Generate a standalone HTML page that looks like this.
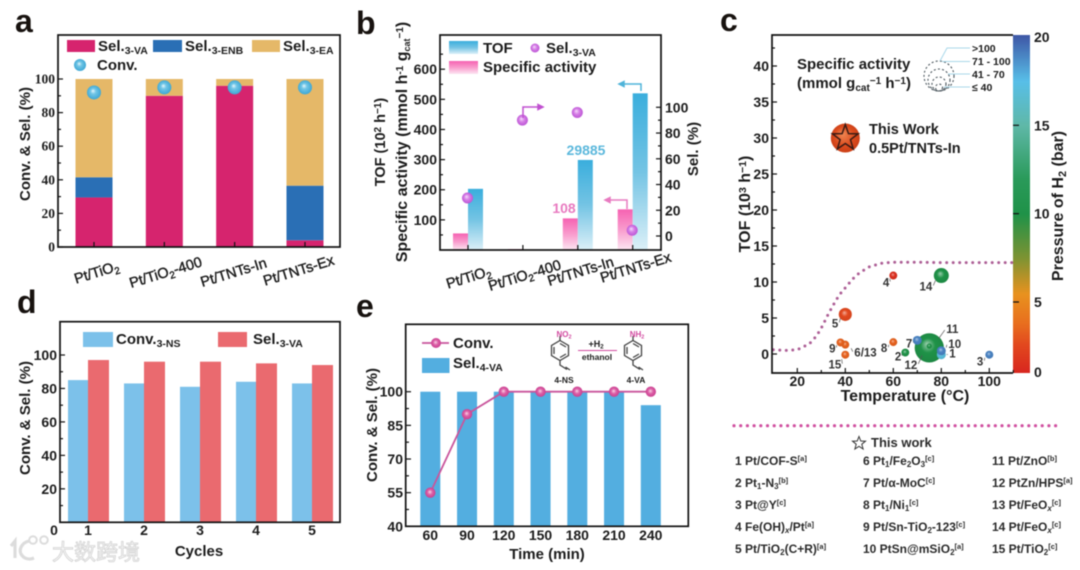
<!DOCTYPE html>
<html lang="en">
<head>
<meta charset="utf-8">
<title>Catalyst performance figure</title>
<style>
html,body{margin:0;padding:0;background:#fff;width:1080px;height:570px;overflow:hidden}
svg{display:block;filter:blur(0.45px)}
text{font-family:"Liberation Sans","Noto Sans CJK SC",sans-serif;fill:#1c1c1c}
.b{font-weight:bold}
.t15{font-size:15px;font-weight:bold}
.letter{font-size:32px;font-weight:bold;fill:#17120f}
.rot{font-size:14.5px;stroke:#1c1c1c;stroke-width:.4px}
.ref{font-size:12px;font-weight:bold;fill:#2b2b2b}
</style>
</head>
<body>
<svg id="fig" xmlns="http://www.w3.org/2000/svg" width="1080" height="570" viewBox="0 0 1080 570">
<defs>
  <radialGradient id="ballBlue" cx=".5" cy=".5" r=".55" fx=".42" fy=".38"><stop offset="0" stop-color="#e8f8fd"/><stop offset=".35" stop-color="#72c6e6"/><stop offset="1" stop-color="#37a3d2"/></radialGradient>
  <radialGradient id="ballPurple" cx=".5" cy=".5" r=".55" fx=".4" fy=".36"><stop offset="0" stop-color="#f6dcfb"/><stop offset=".45" stop-color="#d67fe6"/><stop offset="1" stop-color="#b84fd2"/></radialGradient>
  <radialGradient id="ballPink" cx=".5" cy=".5" r=".55" fx=".45" fy=".42"><stop offset="0" stop-color="#f9d3e6"/><stop offset=".45" stop-color="#dc5fa6"/><stop offset="1" stop-color="#c63a8c"/></radialGradient>
  <radialGradient id="ballStar" cx=".5" cy=".5" r=".55" fx=".4" fy=".35"><stop offset="0" stop-color="#f08a55"/><stop offset=".6" stop-color="#dc4c1e"/><stop offset="1" stop-color="#c83d15"/></radialGradient>
  <linearGradient id="gradTof" x1="0" y1="0" x2="0" y2="1"><stop offset="0" stop-color="#3aaedd"/><stop offset=".5" stop-color="#74c4e4"/><stop offset="1" stop-color="#dcf0f8"/></linearGradient>
  <linearGradient id="gradSpec" x1="0" y1="0" x2="0" y2="1"><stop offset="0" stop-color="#f662b2"/><stop offset=".5" stop-color="#f99ccd"/><stop offset="1" stop-color="#fde6f2"/></linearGradient>
</defs>

<!-- Panel letters -->
<text class="letter" x="15" y="32">a</text>
<text class="letter" x="356" y="34">b</text>
<text class="letter" x="720" y="31">c</text>
<text class="letter" x="17" y="313">d</text>
<text class="letter" x="356" y="317">e</text>

<g id="panelA"></g>
<g id="panelB"></g>
<g id="panelC"></g>
<g id="panelD"></g>
<g id="panelE"></g>

<!-- Panel a static -->
<g>
  <rect x="67" y="40" width="28" height="12" fill="#d6246e"/>
  <text x="98" y="51" class="t15">Sel.<tspan font-size="10.5" dy="3">3-VA</tspan></text>
  <rect x="153" y="40" width="29" height="12" fill="#2a6fb5"/>
  <text x="185" y="51" class="t15">Sel.<tspan font-size="10.5" dy="3">3-ENB</tspan></text>
  <rect x="252" y="40" width="28" height="12" fill="#e5b868"/>
  <text x="283" y="51" class="t15">Sel.<tspan font-size="10.5" dy="3">3-EA</tspan></text>
  <circle cx="80" cy="65" r="6" fill="url(#ballBlue)"/>
  <text x="97" y="70" class="t15">Conv.</text>
</g>
<text class="t15" transform="translate(30 144) rotate(-90)" text-anchor="middle">Conv. &amp; Sel. (%)</text>

<!-- Panel b static -->
<g>
  <rect x="449" y="41" width="29" height="13" fill="url(#gradTof)"/>
  <text x="483" y="53" class="t15">TOF</text>
  <circle cx="535" cy="48" r="4.5" fill="url(#ballPurple)"/>
  <text x="546" y="53" class="t15">Sel.<tspan font-size="10.5" dy="3">3-VA</tspan></text>
  <rect x="449" y="61" width="29" height="13" fill="url(#gradSpec)"/>
  <text x="483" y="72" class="t15">Specific activity</text>
</g>
<text class="t15" style="font-size:14.5px" transform="translate(385 142) rotate(-90)" text-anchor="middle">TOF (10<tspan font-size="10" dy="-4">2</tspan><tspan dy="4"> h</tspan><tspan font-size="10" dy="-4">−1</tspan><tspan dy="4">)</tspan></text>
<text class="t15" style="font-size:16px" transform="translate(407 142) rotate(-90)" text-anchor="middle">Specific activity (mmol h<tspan font-size="10" dy="-4">-1</tspan><tspan dy="4"> g</tspan><tspan font-size="9" dy="3">cat</tspan><tspan font-size="10" dy="-7">−1</tspan><tspan dy="4">)</tspan></text>
<text class="t15" transform="translate(698 149) rotate(-90)" text-anchor="middle">Sel. (%)</text>
<text x="586" y="155" text-anchor="middle" class="b" font-size="14" style="fill:#5cb8dc">29885</text>
<text x="564" y="213" text-anchor="middle" class="b" font-size="14" style="fill:#e87ac0">108</text>
<g fill="none" stroke-width="1.5">
  <path d="M523 118V107H540" stroke="#c050d0"/>
  <path d="M538 104.5L543 107L538 109.5Z" fill="#c050d0" stroke="#c050d0"/>
  <path d="M641 91V84H621" stroke="#4fb3d9"/>
  <path d="M624 81.5L619 84L624 86.5Z" fill="#4fb3d9" stroke="#4fb3d9"/>
  <path d="M627 209V200H607" stroke="#e87ac0"/>
  <path d="M610 197.5L605 200L610 202.5Z" fill="#e87ac0" stroke="#e87ac0"/>
</g>

<!-- Panel c static -->
<text class="t15" style="font-size:16px" transform="translate(750 204) rotate(-90)" text-anchor="middle">TOF (10<tspan font-size="10.5" dy="-4">3</tspan><tspan dy="4"> h</tspan><tspan font-size="10.5" dy="-4">−1</tspan><tspan dy="4">)</tspan></text>
<text class="t15" style="font-size:16px" x="905" y="401" text-anchor="middle">Temperature (°C)</text>
<text class="t15" style="font-size:16px" transform="translate(1063 206) rotate(-90)" text-anchor="middle">Pressure of H<tspan font-size="11" dy="3">2</tspan><tspan dy="-3"> (bar)</tspan></text>
<text x="797" y="69" class="t15">Specific activity</text>
<text x="797" y="88" class="t15">(mmol g<tspan font-size="10" dy="3">cat</tspan><tspan font-size="10" dy="-7">−1</tspan><tspan dy="4"> h</tspan><tspan font-size="10" dy="-4">−1</tspan><tspan dy="4">)</tspan></text>
<g fill="none" stroke="#4a555c" stroke-width="1.1" stroke-dasharray="2 2.2">
  <circle cx="939" cy="76" r="15"/>
  <circle cx="939" cy="80" r="11"/>
  <circle cx="939" cy="84" r="7"/>
  <circle cx="939" cy="87.5" r="3.5"/>
</g>
<g fill="none" stroke="#a9d8ea" stroke-width="1">
  <path d="M940 61L947 48H970"/>
  <path d="M942 61.5H970"/>
  <path d="M948 74H970"/>
  <path d="M944 87H970"/>
</g>
<text x="972" y="52" class="b" font-size="10.5">&gt;100</text>
<text x="972" y="65" class="b" font-size="10.5">71 - 100</text>
<text x="972" y="78" class="b" font-size="10.5">41 - 70</text>
<text x="972" y="91" class="b" font-size="10.5">≤ 40</text>
<text x="869" y="134" class="b" font-size="14.5">This Work</text>
<text x="869" y="153" class="b" font-size="14.5">0.5Pt/TNTs-In</text>

<!-- Reference list -->
<line x1="734" y1="425.7" x2="1062" y2="425.7" stroke="#d050a0" stroke-width="3.2" stroke-linecap="round" stroke-dasharray="0 6.7"/>
<polygon points="859,436.5 860.8,441 865.5,441.2 861.8,444.2 863.1,449 859,446.3 854.9,449 856.2,444.2 852.5,441.2 857.2,441" fill="#fff" stroke="#333" stroke-width="1"/>
<text x="871" y="447" class="b" font-size="13" style="fill:#2b2b2b">This work</text>
<g>
  <text class="ref" x="735" y="465">1 Pt/COF-S<tspan font-size="7.5" dy="-4">[a]</tspan></text>
  <text class="ref" x="735" y="487">2 Pt<tspan font-size="8" dy="2">1</tspan><tspan dy="-2">-N</tspan><tspan font-size="8" dy="2">3</tspan><tspan font-size="7.5" dy="-6">[b]</tspan></text>
  <text class="ref" x="735" y="509">3 Pt@Y<tspan font-size="7.5" dy="-4">[c]</tspan></text>
  <text class="ref" x="735" y="531">4 Fe(OH)<tspan font-size="8" dy="2" font-style="italic">x</tspan><tspan dy="-2">/Pt</tspan><tspan font-size="7.5" dy="-4">[a]</tspan></text>
  <text class="ref" x="735" y="553">5 Pt/TiO<tspan font-size="8" dy="2">2</tspan><tspan dy="-2">(C+R)</tspan><tspan font-size="7.5" dy="-4">[a]</tspan></text>
  <text class="ref" x="863" y="465">6 Pt<tspan font-size="8" dy="2">1</tspan><tspan dy="-2">/Fe</tspan><tspan font-size="8" dy="2">2</tspan><tspan dy="-2">O</tspan><tspan font-size="8" dy="2">3</tspan><tspan font-size="7.5" dy="-6">[c]</tspan></text>
  <text class="ref" x="863" y="487">7 Pt/α-MoC<tspan font-size="7.5" dy="-4">[c]</tspan></text>
  <text class="ref" x="863" y="509">8 Pt<tspan font-size="8" dy="2">1</tspan><tspan dy="-2">/Ni</tspan><tspan font-size="8" dy="2">1</tspan><tspan font-size="7.5" dy="-6">[c]</tspan></text>
  <text class="ref" x="863" y="531">9 Pt/Sn-TiO<tspan font-size="8" dy="2">2</tspan><tspan dy="-2">-123</tspan><tspan font-size="7.5" dy="-4">[c]</tspan></text>
  <text class="ref" x="863" y="553">10 PtSn@mSiO<tspan font-size="8" dy="2">2</tspan><tspan font-size="7.5" dy="-6">[a]</tspan></text>
  <text class="ref" x="992" y="465">11 Pt/ZnO<tspan font-size="7.5" dy="-4">[b]</tspan></text>
  <text class="ref" x="992" y="487">12 PtZn/HPS<tspan font-size="7.5" dy="-4">[a]</tspan></text>
  <text class="ref" x="992" y="509">13 Pt/FeO<tspan font-size="8" dy="2" font-style="italic">x</tspan><tspan font-size="7.5" dy="-6">[c]</tspan></text>
  <text class="ref" x="992" y="531">14 Pt/FeO<tspan font-size="8" dy="2" font-style="italic">x</tspan><tspan font-size="7.5" dy="-6">[c]</tspan></text>
  <text class="ref" x="992" y="553">15 Pt/TiO<tspan font-size="8" dy="2">2</tspan><tspan font-size="7.5" dy="-6">[c]</tspan></text>
</g>

<!-- Panel d static -->
<text class="t15" transform="translate(30 418) rotate(-90)" text-anchor="middle">Conv. &amp; Sel. (%)</text>
<text class="t15" x="199" y="556" text-anchor="middle">Cycles</text>
<rect x="83" y="332" width="30" height="15" fill="#7cc1ea"/>
<text x="116" y="344" class="t15">Conv.<tspan font-size="10.5" dy="3">3-NS</tspan></text>
<rect x="218" y="332" width="29" height="15" fill="#ea6a6f"/>
<text x="253" y="344" class="t15">Sel.<tspan font-size="10.5" dy="3">3-VA</tspan></text>

<!-- Panel e static -->
<text class="t15" transform="translate(377 425) rotate(-90)" text-anchor="middle">Conv. &amp; Sel. (%)</text>
<text class="t15" x="547" y="559" text-anchor="middle">Time (min)</text>
<line x1="422" y1="343" x2="449" y2="343" stroke="#c9559c" stroke-width="1.8"/>
<circle cx="436" cy="343" r="5" fill="url(#ballPink)"/>
<text x="453" y="348" class="t15">Conv.</text>
<rect x="422" y="358" width="27.5" height="15" fill="#53aee0"/>
<text x="453" y="368" class="t15">Sel.<tspan font-size="10.5" dy="3">4-VA</tspan></text>
<g>
  <g fill="none" stroke="#444" stroke-width="1.3">
    <polygon points="560,340.5 568.5,345.5 568.5,355.5 560,360.5 551.5,355.5 551.5,345.5"/>
    <path d="M554 347V354M560 343.5L566 347M566 354L560 357.5M560 340.5V336M560 360.5V365L567 369.5M565.5 367L570 370"/>
  </g>
  <g fill="none" stroke="#444" stroke-width="1.3">
    <polygon points="633,340.5 641.5,345.5 641.5,355.5 633,360.5 624.5,355.5 624.5,345.5"/>
    <path d="M627 347V354M633 343.5L639 347M639 354L633 357.5M633 340.5V336M633 360.5V365L640 369.5M638.5 367L643 370"/>
  </g>
  <text x="564" y="337" text-anchor="middle" class="b" font-size="8" style="fill:#d24aa0">NO<tspan font-size="5.5" dy="1.5">2</tspan></text>
  <text x="637" y="337" text-anchor="middle" class="b" font-size="8" style="fill:#d24aa0">NH<tspan font-size="5.5" dy="1.5">2</tspan></text>
  <text x="596" y="347" text-anchor="middle" class="b" font-size="9">+H<tspan font-size="6" dy="1.5">2</tspan></text>
  <line x1="578" y1="350.5" x2="617" y2="350.5" stroke="#d24aa0" stroke-width="1"/>
  <text x="597" y="360" text-anchor="middle" class="b" font-size="8.5">ethanol</text>
  <text x="564" y="383" text-anchor="middle" class="b" font-size="8.5">4-NS</text>
  <text x="636" y="383" text-anchor="middle" class="b" font-size="8.5">4-VA</text>
</g>

<!-- Watermark -->
<g>
  <g fill="none" stroke="#dcdcdc" stroke-width="3.2">
    <path d="M11 546L15 541V558"/>
    <path d="M29 541C21 543 19 550 21 554C24 559 29 560 34 558"/>
    <circle cx="33" cy="540" r="3.8" stroke-width="2"/>
    <circle cx="44" cy="540" r="3.8" stroke-width="2"/>
  </g>
  <text x="52" y="560" font-size="22" style="fill:#f7f7f7;stroke:#d4d4d4;stroke-width:.8px;font-family:'Noto Sans CJK SC',sans-serif">大数跨境</text>
</g>

<script>
// ---------- Panel a data ----------
const aCategories = ["Pt/TiO2", "Pt/TiO2-400", "Pt/TNTs-In", "Pt/TNTs-Ex"];
const aVa = [29.5, 90, 96, 4];
const aEnb = [12, 0, 0, 32.5];
const aEa = [58.5, 10, 4, 63.5];
const aConv = [92, 95, 95, 95];
const aTicks = [0, 20, 40, 60, 80, 100];

// ---------- Panel b data ----------
const bCategories = ["Pt/TiO2", "Pt/TiO2-400", "Pt/TNTs-In", "Pt/TNTs-Ex"];
const bSpecific = [55, 3, 105, 135];
const bTof = [203, 0, 298.85, 520];
const bSel = [29.5, 90, 96, 4.5];
const bLeftTicks = [100, 200, 300, 400, 500, 600];
const bRightTicks = [0, 20, 40, 60, 80, 100];

// ---------- Panel c data ----------
const cLabels = ["1", "2", "3", "4", "5", "6/13", "7", "8", "9", "10", "11", "12", "14", "15"];
const cTemperature = [80, 65, 100, 60, 40, 40, 70, 60, 38, 80, 75, 75, 80, 40];
const cTof = [-0.1, 0.2, -0.1, 10.9, 5.5, 1.3, 1.9, 1.65, 1.6, 0.45, 1.1, 0.85, 10.9, -0.1];
const cActivity = [9, 7, 7, 7, 19, 7, 9, 7, 7, 9, 3, 95, 25, 7];
const cPressure = [17, 10, 19, 0.5, 2, 3, 19, 3, 3, 19, 10, 10, 10, 3];
const cThisWorkTemperature = [40];
const cThisWorkTof = [30];
const cCurveTemperature = [10, 15, 20, 25, 28, 30, 33, 36, 38, 40, 43, 46, 50, 55, 60, 70, 80, 90, 100, 110];
const cCurveTof = [0.6, 0.5, 0.6, 1.4, 2.5, 3.6, 5.6, 7.4, 8.4, 9.2, 10.4, 11.3, 12.1, 12.6, 12.75, 12.75, 12.7, 12.7, 12.7, 12.7];
const cXTicks = [20, 40, 60, 80, 100];
const cYTicks = [0, 5, 10, 15, 20, 25, 30, 35, 40];
const cBarTicks = [0, 5, 10, 15, 20];

// ---------- Panel d data ----------
const dCycles = ["1", "2", "3", "4", "5"];
const dConv = [85, 83, 81, 84, 83];
const dSel = [97, 96, 96, 95, 94];
const dTicks = [20, 40, 60, 80, 100];

// ---------- Panel e data ----------
const eTimes = ["60", "90", "120", "150", "180", "210", "240"];
const eSel = [100, 100, 100, 100, 100, 100, 94];
const eConv = [55, 90, 100, 100, 100, 100, 100];
const eTicks = [40, 55, 70, 85, 100];

const NS = 'http://www.w3.org/2000/svg';
function mk(parent, tag, attrs, name) {
  const el = document.createElementNS(NS, tag);
  for (const k in attrs) el.setAttribute(k, attrs[k]);
  
  
  parent.appendChild(el);
  return el;
}
function txt(parent, x, y, str, size, anchor, name, extra) {
  const el = mk(parent, 'text', Object.assign({x: x, y: y, 'font-size': size, 'text-anchor': anchor, 'font-weight': 'bold'}, extra || {}), name);
  el.textContent = str;
  return el;
}
function frame(parent, x0, y0, x1, y1, name) {
  mk(parent, 'rect', {x: x0, y: y0, width: x1 - x0, height: y1 - y0, fill: 'none', stroke: '#111', 'stroke-width': 1.7}, name);
}
function tick(parent, x1, y1, x2, y2, name) {
  mk(parent, 'line', {x1: x1, y1: y1, x2: x2, y2: y2, stroke: '#111', 'stroke-width': 1.2}, name);
}
function rotLabel(parent, cx, cy, label, name) {
  const el = mk(parent, 'text', {transform: 'translate(' + cx + ' ' + cy + ') rotate(-17)', 'text-anchor': 'middle', class: 'rot'}, name);
  const m = label.match(/^(Pt\/TiO)2(.*)$/);
  if (m) {
    el.appendChild(document.createTextNode(m[1]));
    const s = document.createElementNS(NS, 'tspan');
    s.setAttribute('font-size', '10');
    s.setAttribute('dy', '3');
    s.textContent = '2';
    el.appendChild(s);
    if (m[2]) {
      const r = document.createElementNS(NS, 'tspan');
      r.setAttribute('dy', '-3');
      r.textContent = m[2];
      el.appendChild(r);
    }
  } else {
    el.textContent = label;
  }
}

// ---------- Panel a ----------
(function () {
  const g = document.getElementById('panelA');
  const y = v => 247 - v * 1.68;
  const x = i => 94 + i * 70.33;
  const w = 37;
  aCategories.forEach((c, i) => {
    mk(g, 'rect', {x: x(i) - w / 2, y: y(aVa[i]), width: w, height: y(0) - y(aVa[i]), fill: '#d6246e'}, 'bar-3va-' + i);
    mk(g, 'rect', {x: x(i) - w / 2, y: y(aVa[i] + aEnb[i]), width: w, height: y(aVa[i]) - y(aVa[i] + aEnb[i]), fill: '#2a6fb5'}, 'bar-3enb-' + i);
    mk(g, 'rect', {x: x(i) - w / 2, y: y(aVa[i] + aEnb[i] + aEa[i]), width: w, height: y(aVa[i] + aEnb[i]) - y(aVa[i] + aEnb[i] + aEa[i]), fill: '#e5b868'}, 'bar-3ea-' + i);
  });
  aConv.forEach((v, i) => {
    mk(g, 'circle', {cx: x(i), cy: y(v), r: 7, fill: 'url(#ballBlue)'}, 'conv-point-' + i);
  });
  frame(g, 58, 35, 340, 247, 'plot-frame-a');
  aTicks.forEach((v, i) => {
    tick(g, 58, y(v), 63, y(v), 'y-tick-a-' + v);
    txt(g, 55, y(v) + 4.5, String(v), 13.5, 'end', 'y-tick-label-a-' + v, {style: 'font-family:"Liberation Serif",serif'});
    if (i < aTicks.length - 1) tick(g, 58, y(v + 10), 61, y(v + 10), 'y-minor-tick-a-' + v);
  });
  const labelSpots = [[98, 277], [167, 277], [235, 277], [300, 275]];
  aCategories.forEach((c, i) => {
    tick(g, x(i), 247, x(i), 242, 'x-tick-a-' + i);
    rotLabel(g, labelSpots[i][0], labelSpots[i][1], c, 'x-tick-label-a-' + i);
  });
})();

// ---------- Panel b ----------
(function () {
  const g = document.getElementById('panelB');
  const yL = v => 250 - v * 0.3013;
  const yR = v => 236 - v * 1.287;
  const x = i => 468 + i * 54.9;
  const w = 15;
  bCategories.forEach((c, i) => {
    mk(g, 'rect', {x: x(i) - w, y: yL(bSpecific[i]), width: w, height: 250 - yL(bSpecific[i]), fill: 'url(#gradSpec)'}, 'bar-specific-' + i);
    if (bTof[i] > 0) mk(g, 'rect', {x: x(i), y: yL(bTof[i]), width: w, height: 250 - yL(bTof[i]), fill: 'url(#gradTof)'}, 'bar-tof-' + i);
  });
  bSel.forEach((v, i) => {
    mk(g, 'circle', {cx: x(i) - 0.5, cy: yR(v), r: 5.5, fill: 'url(#ballPurple)'}, 'sel-point-' + i);
  });
  frame(g, 440, 35, 661, 250, 'plot-frame-b');
  bLeftTicks.forEach(v => {
    tick(g, 440, yL(v), 445, yL(v), 'y-left-tick-' + v);
    tick(g, 440, yL(v + 50), 443, yL(v + 50), 'y-left-minor-tick-' + v);
    txt(g, 437, yL(v) + 5, String(v), 14, 'end', 'y-left-tick-label-' + v);
  });
  tick(g, 440, yL(50), 443, yL(50), 'y-left-minor-tick-50');
  bRightTicks.forEach((v, i) => {
    tick(g, 661, yR(v), 656, yR(v), 'y-right-tick-' + v);
    if (i < bRightTicks.length - 1) tick(g, 661, yR(v + 10), 658, yR(v + 10), 'y-right-minor-tick-' + v);
    txt(g, 665, yR(v) + 5, String(v), 14, 'start', 'y-right-tick-label-' + v);
  });
  const labelSpots = [[470, 282], [526, 280], [582, 276], [637, 272]];
  bCategories.forEach((c, i) => {
    tick(g, x(i), 250, x(i), 245, 'x-tick-b-' + i);
    rotLabel(g, labelSpots[i][0], labelSpots[i][1], c, 'x-tick-label-b-' + i);
  });
})();

// ---------- Panel c ----------
(function () {
  const g = document.getElementById('panelC');
  const defs = document.querySelector('defs');
  const x = t => 845.3 + (t - 40) * 2.4;
  const y = v => 354 - v * 7.2;
  const r = a => 1.5 * Math.sqrt(a);
  const cbY = p => p <= 5 ? 372 - p * 14 : 302 - (p - 5) * 17.67;
  const colorScale = [
    [0, [216, 38, 31]], [2, [226, 72, 30]], [3.5, [232, 110, 30]], [5.5, [232, 146, 31]],
    [7.5, [126, 147, 50]], [10, [31, 146, 72]], [12, [42, 154, 90]], [15, [95, 184, 168]],
    [17.5, [88, 191, 232]], [20, [63, 90, 168]]
  ];
  const color = p => {
    let k = 0;
    while (k < colorScale.length - 2 && p > colorScale[k + 1][0]) k++;
    const a = colorScale[k], b = colorScale[k + 1];
    const f = (p - a[0]) / (b[0] - a[0]);
    return a[1].map((c, j) => c + (b[1][j] - c) * f);
  };
  const css = c => 'rgb(' + c.map(Math.round).join(',') + ')';
  const mix = (c, m, f) => c.map(v => v + (m - v) * f);

  // colour bar
  const gradFlip = mk(defs, 'linearGradient', {id: 'gradBarUp', x1: 0, y1: 1, x2: 0, y2: 0}, 'colorbar-gradient');
  colorScale.forEach((s, i) => {
    mk(gradFlip, 'stop', {offset: (372 - cbY(s[0])) / (372 - 35), 'stop-color': css(s[1])}, 'colorbar-stop-' + i);
  });
  mk(g, 'rect', {x: 1013, y: 35, width: 17, height: 338, fill: 'url(#gradBarUp)'}, 'colorbar');
  cBarTicks.forEach(v => {
    if (v > 0 && v < 20) tick(g, 1013, cbY(v), 1019, cbY(v), 'colorbar-tick-' + v);
    txt(g, 1034, cbY(v) + 5, String(v), 14, 'start', 'colorbar-tick-label-' + v);
  });

  // curve
  const pts = cCurveTemperature.map((t, i) => x(t).toFixed(1) + ',' + y(cCurveTof[i]).toFixed(1)).join(' ');
  mk(g, 'polyline', {points: pts, fill: 'none', stroke: '#ad5f96', 'stroke-width': 3, 'stroke-linecap': 'round', 'stroke-dasharray': '0 6.5'}, 'activity-limit-curve');

  // axes
  mk(g, 'path', {d: 'M1013 35H772V373H1013', fill: 'none', stroke: '#111', 'stroke-width': 1.7}, 'plot-frame-c');
  cXTicks.forEach(v => {
    tick(g, x(v), 373, x(v), 368, 'x-tick-c-' + v);
    tick(g, x(v + 10), 373, x(v + 10), 370, 'x-minor-tick-c-' + v);
    txt(g, x(v), 386, String(v), 14, 'middle', 'x-tick-label-c-' + v);
  });
  cYTicks.forEach(v => {
    tick(g, 772, y(v), 777, y(v), 'y-tick-c-' + v);
    tick(g, 772, y(v + 2.5), 775, y(v + 2.5), 'y-minor-tick-c-' + v);
    txt(g, 769, y(v) + 5, String(v), 14, 'end', 'y-tick-label-c-' + v);
  });

  // bubbles, biggest first
  const order = cLabels.map((l, i) => i).sort((a, b) => cActivity[b] - cActivity[a]);
  order.forEach(i => {
    const c = color(cPressure[i]);
    const grd = mk(defs, 'radialGradient', {id: 'bub' + i, cx: .5, cy: .5, r: .55, fx: .42, fy: .36}, 'bubble-gradient-' + cLabels[i]);
    mk(grd, 'stop', {offset: 0, 'stop-color': css(mix(c, 255, .55))}, 'bubble-gradient-light');
    mk(grd, 'stop', {offset: .45, 'stop-color': css(c)}, 'bubble-gradient-base');
    mk(grd, 'stop', {offset: 1, 'stop-color': css(mix(c, 0, .08))}, 'bubble-gradient-edge');
    mk(g, 'circle', {cx: x(cTemperature[i]), cy: y(cTof[i]), r: r(cActivity[i]), fill: 'url(#bub' + i + ')'}, 'bubble-' + cLabels[i]);
  });
  const labelOffset = {
    '1': [12, -1], '2': [-8, 4], '3': [-10, 7], '4': [-8, 7], '5': [-11, 9], '6/13': [13, 8], '7': [-9, 3],
    '8': [-10, 6], '9': [-9, 6], '10': [11, -7], '11': [21, -17], '12': [-16, 17], '14': [-13, 11], '15': [-8, 10]
  };
  cLabels.forEach((l, i) => {
    const o = labelOffset[l];
    const px = x(cTemperature[i]), py = y(cTof[i]);
    const tx = px + o[0], ty = py + o[1];
    const anchor = o[0] > 0 ? 'start' : 'end';
    txt(g, o[0] > 0 ? tx - 4 : tx + 4, ty + 4, l, 11.5, anchor, 'bubble-label-' + l, {style: 'fill:#333'});
    const lx = o[0] > 0 ? tx - 5.5 : tx + 5;
    mk(g, 'line', {x1: lx, y1: ty + (o[1] < 0 ? 1 : -1), x2: px + o[0] * 0.45, y2: py + o[1] * 0.45, stroke: '#555', 'stroke-width': .7}, 'bubble-leader-' + l);
  });

  // this work
  const sx = x(cThisWorkTemperature[0]), sy = y(cThisWorkTof[0]);
  mk(g, 'circle', {cx: sx, cy: sy, r: 14.5, fill: 'url(#ballStar)'}, 'this-work-bubble');
  const star = [];
  for (let k = 0; k < 10; k++) {
    const a = -Math.PI / 2 + k * Math.PI / 5, rad = k % 2 ? 5.5 : 13.5;
    star.push((sx + rad * Math.cos(a)).toFixed(1) + ',' + (sy + rad * Math.sin(a)).toFixed(1));
  }
  mk(g, 'polygon', {points: star.join(' '), fill: 'none', stroke: '#3a1b14', 'stroke-width': 1.5}, 'this-work-star');
})();

// ---------- Panel d ----------
(function () {
  const g = document.getElementById('panelD');
  const y = v => 522.3 - v * 1.673;
  const x = i => 88 + i * 56;
  dCycles.forEach((c, i) => {
    mk(g, 'rect', {x: x(i) - 20, y: y(dConv[i]), width: 20, height: y(0) - y(dConv[i]), fill: '#7cc1ea'}, 'bar-conv-cycle-' + c);
    mk(g, 'rect', {x: x(i), y: y(dSel[i]), width: 21, height: y(0) - y(dSel[i]), fill: '#ea6a6f'}, 'bar-sel-cycle-' + c);
    txt(g, x(i), 535, c, 14, 'middle', 'x-tick-label-d-' + c);
  });
  frame(g, 60, 321.7, 340, 522.3, 'plot-frame-d');
  dTicks.forEach(v => {
    tick(g, 60, y(v), 65, y(v), 'y-tick-d-' + v);
    tick(g, 60, y(v - 10), 63, y(v - 10), 'y-minor-tick-d-' + v);
    txt(g, 57, y(v) + 5, String(v), 14, 'end', 'y-tick-label-d-' + v);
  });
  txt(g, 54, 535, '0', 14, 'middle', 'y-tick-label-d-0');
})();

// ---------- Panel e ----------
(function () {
  const g = document.getElementById('panelE');
  const y = v => 526.3 - (v - 40) * 2.243;
  const x = i => 430.3 + i * 36.75;
  eTimes.forEach((t, i) => {
    mk(g, 'rect', {x: x(i) - 10, y: y(eSel[i]), width: 20, height: y(40) - y(eSel[i]), fill: '#53aee0'}, 'bar-sel-' + t + 'min');
    txt(g, x(i), 540, t, 14, 'middle', 'x-tick-label-e-' + t);
  });
  frame(g, 405.7, 324.3, 688.3, 526.3, 'plot-frame-e');
  eTicks.forEach(v => {
    tick(g, 405.7, y(v), 411, y(v), 'y-tick-e-' + v);
    if (v < 100) tick(g, 405.7, y(v + 7.5), 409, y(v + 7.5), 'y-minor-tick-e-' + v);
    txt(g, 403, y(v) + 5, String(v), 14, 'end', 'y-tick-label-e-' + v);
  });
  const pts = eConv.map((v, i) => x(i).toFixed(1) + ',' + y(v).toFixed(1)).join(' ');
  mk(g, 'polyline', {points: pts, fill: 'none', stroke: '#c9559c', 'stroke-width': 1.8}, 'conv-line');
  eConv.forEach((v, i) => {
    mk(g, 'circle', {cx: x(i), cy: y(v), r: 5.2, fill: 'url(#ballPink)'}, 'conv-point-' + eTimes[i] + 'min');
  });
})();
</script>
</svg>
</body>
</html>
